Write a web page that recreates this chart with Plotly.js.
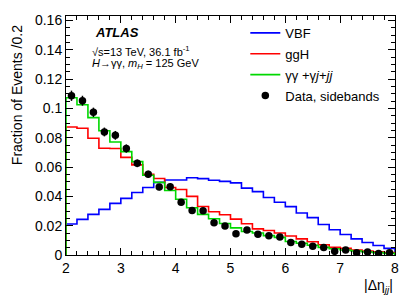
<!DOCTYPE html>
<html>
<head>
<meta charset="utf-8">
<script src="https://cdn.plot.ly/plotly-3.0.1.min.js"></script>
<style>html,body{margin:0;padding:0;background:#fff;}#chart{width:415px;height:303px;}</style>
</head>
<body>
<div id="chart"></div>
<script>
// Bin edges of |Δη_jj| (bin width 0.2)
var binEdges = [2.0,2.2,2.4,2.6,2.8,3.0,3.2,3.4,3.6,3.8,4.0,4.2,4.4,4.6,4.8,5.0,5.2,5.4,5.6,5.8,6.0,6.2,6.4,6.6,6.8,7.0,7.2,7.4,7.6,7.8,8.0];

// Normalised fractions per bin
var vbf = [0.0211,0.0243,0.0277,0.0311,0.0352,0.0386,0.0426,0.0460,0.0495,0.0512,
           0.0512,0.0527,0.0521,0.0510,0.0502,0.0492,0.0456,0.0432,0.0392,0.0360,
           0.0330,0.0286,0.0255,0.0208,0.0172,0.0140,0.0110,0.0085,0.0065,0.0045];
var ggh = [0.0873,0.0864,0.0796,0.0728,0.0726,0.0666,0.0615,0.0550,0.0522,0.0460,
           0.0447,0.0400,0.0331,0.0295,0.0275,0.0245,0.0213,0.0178,0.0167,0.0150,
           0.0130,0.0110,0.0090,0.0070,0.0052,0.0045,0.0034,0.0027,0.0022,0.0016];
var bkg = [0.1072,0.1025,0.0937,0.0847,0.0771,0.0705,0.0637,0.0544,0.0495,0.0440,
           0.0380,0.0322,0.0277,0.0247,0.0215,0.0185,0.0160,0.0150,0.0132,0.0120,
           0.0092,0.0080,0.0066,0.0052,0.0043,0.0034,0.0027,0.0020,0.0016,0.0011];
var dataVals = [0.1086,0.1052,0.0973,0.0839,0.0816,0.0726,0.0625,0.0551,0.0463,0.0465,
                0.0359,0.0304,0.0302,0.0220,0.0198,0.0145,0.0170,0.0142,0.0132,0.0122,
                0.0086,0.0073,0.0060,0.0051,0.0025,0.0034,0.0016,0.0020,0.0011,0.0016];
var dataErr = [0.0035,0.0034,0.0032,0.0030,0.0030,0.0028,0.0026,0.0024,0.0022,0.0022,
               0.0019,0.0018,0.0018,0.0015,0.0014,0.0012,0.0013,0.0012,0.0011,0.0011,
               0.0009,0.0009,0.0008,0.0007,0.0005,0.0006,0.0004,0.0005,0.0003,0.0004];

var seriesNames = ['VBF','ggH','\u03b3\u03b3 +\u03b3<i>j</i>+<i>jj</i>','Data, sidebands'];
var seriesColors = ['#0000ff','#ff0000','#00d800','#000000'];

function histStep(vals){
  var x=[binEdges[0]], y=[0];
  for (var i=0;i<vals.length;i++){ x.push(binEdges[i]); y.push(vals[i]); }
  x.push(binEdges[binEdges.length-1]); y.push(vals[vals.length-1]);
  x.push(binEdges[binEdges.length-1]); y.push(0);
  return {x:x,y:y};
}
var centers = [];
for (var i=0;i<binEdges.length-1;i++){ centers.push((binEdges[i]+binEdges[i+1])/2); }

var traces = [];
[vbf,ggh,bkg].forEach(function(v,k){
  var s = histStep(v);
  traces.push({x:s.x,y:s.y,type:'scatter',mode:'lines',name:seriesNames[k],
    legendgroup:'g'+k,
    line:{shape:'hv',color:seriesColors[k],width:1.6},hoverinfo:'skip'});
});
traces.push({x:centers,y:dataVals,type:'scatter',mode:'markers',name:seriesNames[3],
  legendgroup:'g3',
  marker:{color:'#000',size:7.5},
  error_y:{type:'data',array:dataErr,visible:true,width:0,thickness:1.5,color:'#000'}});

var fnt = 'Liberation Sans, Arial, Helvetica, sans-serif';
var layout = {
  width:415, height:303,
  margin:{l:66,r:20,t:16,b:48},
  paper_bgcolor:'#fff', plot_bgcolor:'#fff',
  font:{family:fnt,size:14,color:'#000'},
  showlegend:true,
  legend:{x:0.545,y:0.992,xanchor:'left',yanchor:'top',bgcolor:'rgba(0,0,0,0)',
    font:{family:fnt,size:13,color:'#000'},tracegroupgap:1,itemwidth:30},
  xaxis:{range:[2,8],dtick:1,tick0:2,showgrid:false,zeroline:false,
    showline:true,linecolor:'#000',linewidth:1,mirror:'allticks',
    ticks:'inside',ticklen:7,tickcolor:'#000',tickwidth:1,
    minor:{ticks:'inside',dtick:0.2,tick0:2,ticklen:4,tickcolor:'#000',tickwidth:1,showgrid:false},
    tickfont:{family:fnt,size:14}},
  yaxis:{range:[0,0.163],dtick:0.02,tick0:0,showgrid:false,zeroline:false,
    showline:true,linecolor:'#000',linewidth:1,mirror:'allticks',
    ticks:'inside',ticklen:7,tickcolor:'#000',tickwidth:1,
    minor:{ticks:'inside',dtick:0.005,tick0:0,ticklen:4,tickcolor:'#000',tickwidth:1,showgrid:false},
    tickfont:{family:fnt,size:14}},
  annotations:[
    {text:'Fraction of Events /0.2',textangle:-90,xref:'paper',yref:'paper',
     x:-0.149,y:0.97,xanchor:'center',yanchor:'top',showarrow:false,font:{family:fnt,size:14}},
    {text:'|\u0394\u03b7<sub><i>jj</i></sub>|',xref:'paper',yref:'paper',x:1,y:0,
     xanchor:'right',yanchor:'top',yshift:-20,showarrow:false,font:{family:fnt,size:14}},
    {text:'<b><i>ATLAS</i></b>',xref:'paper',yref:'paper',x:0.082,y:0.933,
     xanchor:'left',yanchor:'middle',showarrow:false,font:{family:fnt,size:13}},
    {text:'\u221as=13 TeV, 36.1 fb<sup>-1</sup>',xref:'paper',yref:'paper',x:0.073,y:0.854,
     xanchor:'left',yanchor:'middle',showarrow:false,font:{family:fnt,size:11}},
    {text:'<i>H</i>\u2192\u03b3\u03b3, <i>m</i><sub><i>H</i></sub> = 125 GeV',xref:'paper',yref:'paper',x:0.073,y:0.798,
     xanchor:'left',yanchor:'middle',showarrow:false,font:{family:fnt,size:11}}
  ]
};
Plotly.newPlot('chart',traces,layout,{displayModeBar:false,staticPlot:true});
</script>
</body>
</html>
